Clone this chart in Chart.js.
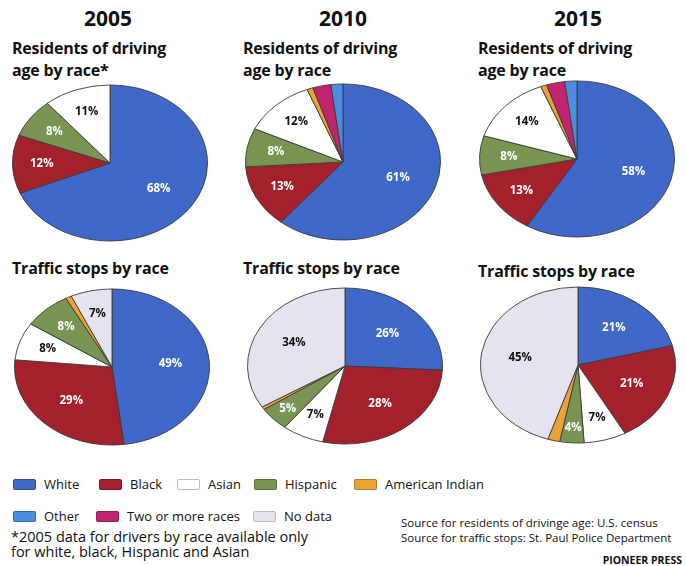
<!DOCTYPE html>
<html>
<head>
<meta charset="utf-8">
<script src="https://cdn.jsdelivr.net/npm/chart.js@4.4.1/dist/chart.umd.min.js"></script>
<style>
  html, body { margin: 0; padding: 0; background: #fff; }
  body { width: 686px; height: 566px; position: relative; overflow: hidden;
         font-family: "Open Sans", "DejaVu Sans", sans-serif; color: #111; }
  .abs { position: absolute; }
  .year { font-size: 21px; font-weight: 700; width: 200px; text-align: center; top: 4px; }
  .ttl { font-size: 16px; font-weight: 700; line-height: 22px; letter-spacing: -0.2px; }
  .pie { width: 196px; height: 196px; }
  #legend .item { position: absolute; font-size: 13px; line-height: 14px; display: flex; align-items: center; }
  #legend .sw { width: 23px; height: 11px; border-radius: 2px; margin-right: 8px; box-sizing: border-box; }
  .note { font-size: 14.5px; line-height: 15px; left: 11px; top: 529px; white-space: nowrap; }
  .src { font-size: 11.5px; line-height: 15px; left: 401px; top: 515px; white-space: nowrap; }
  .pp { font-size: 10.5px; font-weight: 700; right: 4px; top: 553px; }
</style>
</head>
<body>

<div class="abs year" style="left:8px">2005</div>
<div class="abs year" style="left:243px">2010</div>
<div class="abs year" style="left:478px">2015</div>

<div class="abs ttl" style="left:12px;top:37px">Residents of driving<br>age by race*</div>
<div class="abs ttl" style="left:243px;top:37px">Residents of driving<br>age by race</div>
<div class="abs ttl" style="left:478px;top:37px">Residents of driving<br>age by race</div>

<div class="abs ttl" style="left:12px;top:257px">Traffic stops by race</div>
<div class="abs ttl" style="left:243px;top:257px">Traffic stops by race</div>
<div class="abs ttl" style="left:478px;top:260px">Traffic stops by race</div>

<canvas id="res2005" class="abs pie" style="left:12px;top:65px"></canvas>
<canvas id="res2010" class="abs pie" style="left:245px;top:64px"></canvas>
<canvas id="res2015" class="abs pie" style="left:479px;top:61px"></canvas>
<canvas id="stop2005" class="abs pie" style="left:14px;top:269px"></canvas>
<canvas id="stop2010" class="abs pie" style="left:247px;top:268px"></canvas>
<canvas id="stop2015" class="abs pie" style="left:480px;top:267px"></canvas>

<div id="legend"></div>

<div class="abs note">*2005 data for drivers by race available only<br>for white, black, Hispanic and Asian</div>
<div class="abs src">Source for residents of drivinge age: U.S. census<br>Source for traffic stops: St. Paul Police Department</div>
<div class="abs pp">PIONEER PRESS</div>

<script>
// Kategorien + Farben
const RACE_COLORS = {
    'White': '#3f68c8',
    'Black': '#a3202c',
    'Asian': '#ffffff',
    'Hispanic': '#7a9553',
    'American Indian': '#eda235',
    'Other': '#4b8de0',
    'Two or more races': '#c2246f',
    'No data': '#e4e3ee'
};
const DARK_TEXT = ['Asian', 'No data'];

// Einwohner (Fahralter) - Reihenfolge im Uhrzeigersinn
const resLabels = ['White', 'Black', 'Hispanic', 'Asian', 'American Indian', 'Two or more races', 'Other'];
const res2005 = [68, 12, 8, 11, 0, 0, 0];
const res2010 = [61, 13, 8, 12, 1, 3, 2];
const res2015 = [58, 13, 8, 14, 1, 3, 2];

// Verkehrskontrollen
const stopLabels = ['White', 'Black', 'Asian', 'Hispanic', 'American Indian', 'No data'];
const stop2005 = [49, 29, 8, 8, 1, 7];
const stop2010 = [26, 28, 7, 5, 0.6, 34];
const stop2015 = [21, 21, 7, 4, 2, 45];

// Legende
const legendRow1 = ['White', 'Black', 'Asian', 'Hispanic', 'American Indian'];
const legendRow2 = ['Other', 'Two or more races', 'No data'];

const Y_SCALE = 0.8;

// Kreis zur Ellipse stauchen (nur die Segmente)
const ellipsePlugin = {
    id: 'ellipse',
    beforeDatasetsDraw(chart) {
        const arc = chart.getDatasetMeta(0).data[0];
        const ctx = chart.ctx;
        ctx.save();
        ctx.translate(arc.x, arc.y);
        ctx.scale(1, Y_SCALE);
        ctx.translate(-arc.x, -arc.y);
    },
    afterDatasetsDraw(chart) {
        chart.ctx.restore();
    }
};

// Prozent-Beschriftung in den Segmenten
const pctLabelPlugin = {
    id: 'pctLabels',
    afterDraw(chart) {
        const ctx = chart.ctx;
        const labels = chart.data.labels;
        const values = chart.data.datasets[0].data;
        chart.getDatasetMeta(0).data.forEach((arc, i) => {
            const v = values[i];
            if (v < 4) return;
            const mid = (arc.startAngle + arc.endAngle) / 2;
            const f = v >= 20 ? 0.6 : (v >= 6 ? 0.7 : 0.8);
            const r = arc.outerRadius * f;
            const x = arc.x + Math.cos(mid) * r;
            const y = arc.y + Math.sin(mid) * r * Y_SCALE;
            ctx.save();
            ctx.font = 'bold 11.5px "Open Sans", sans-serif';
            ctx.textAlign = 'center';
            ctx.textBaseline = 'middle';
            ctx.fillStyle = DARK_TEXT.includes(labels[i]) ? '#111' : '#fff';
            ctx.fillText(v + '%', x, y);
            ctx.restore();
        });
    }
};

function makePie(id, labels, values) {
    const ctx = document.getElementById(id);
    if (!ctx) return;
    new Chart(ctx, {
        type: 'pie',
        data: {
            labels: labels,
            datasets: [{
                data: values,
                backgroundColor: labels.map(l => RACE_COLORS[l]),
                borderColor: '#3a3a3a',
                borderWidth: 1
            }]
        },
        options: {
            responsive: false,
            animation: false,
            layout: { padding: 0 },
            plugins: {
                legend: { display: false },
                tooltip: { enabled: false }
            }
        },
        plugins: [ellipsePlugin, pctLabelPlugin]
    });
}

makePie('res2005', resLabels, res2005);
makePie('res2010', resLabels, res2010);
makePie('res2015', resLabels, res2015);
makePie('stop2005', stopLabels, stop2005);
makePie('stop2010', stopLabels, stop2010);
makePie('stop2015', stopLabels, stop2015);

// Legende (HTML)
const legendRows = [legendRow1, legendRow2];
const legendX = [[13, 99, 177, 254, 354], [13, 96, 253]];
const legendY = [477, 509];
const legend = document.getElementById('legend');
legendRows.forEach((row, r) => {
    row.forEach((name, c) => {
        const item = document.createElement('div');
        item.className = 'item';
        item.style.left = legendX[r][c] + 'px';
        item.style.top = legendY[r] + 'px';
        const sw = document.createElement('span');
        sw.className = 'sw';
        sw.style.background = RACE_COLORS[name];
        sw.style.border = '1px solid ' + (DARK_TEXT.includes(name) ? '#bbb' : 'rgba(0,0,0,0.25)');
        item.appendChild(sw);
        item.appendChild(document.createTextNode(name));
        legend.appendChild(item);
    });
});
</script>
</body>
</html>
